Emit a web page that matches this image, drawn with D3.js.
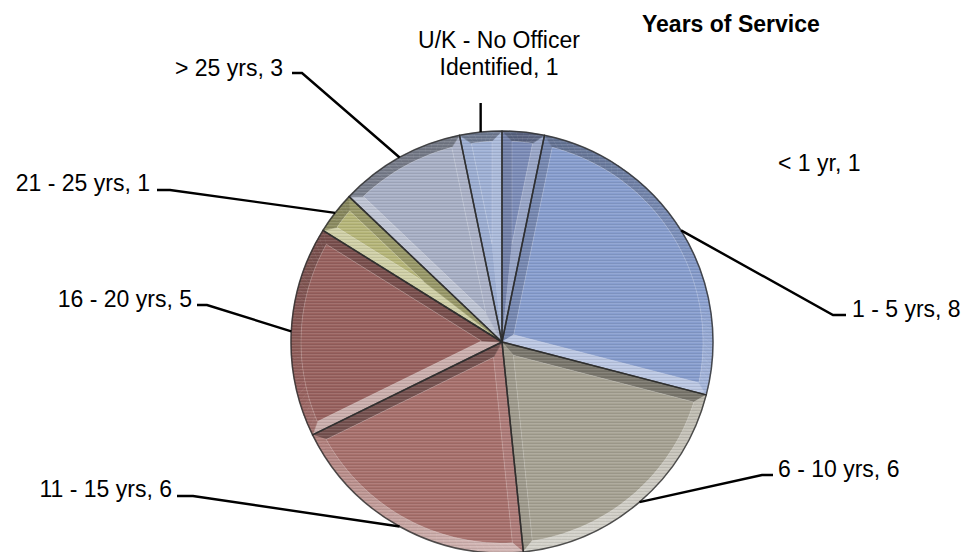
<!DOCTYPE html>
<html>
<head>
<meta charset="utf-8">
<script src="https://cdn.jsdelivr.net/npm/d3@7"></script>
<style>
  html, body { margin: 0; padding: 0; background: #ffffff; }
  svg { display: block; }
  text { font-family: Arial, "Liberation Sans", sans-serif; fill: #000; }
</style>
</head>
<body>
<script>
// Complaints by officer years of service
const categories = ["< 1 yr", "1 - 5 yrs", "6 - 10 yrs", "11 - 15 yrs", "16 - 20 yrs", "21 - 25 yrs", "> 25 yrs", "U/K - No Officer Identified"];
const counts = [1, 8, 6, 6, 5, 1, 3, 1];
const sliceColors = ["#7c8cb8", "#889ecf", "#a7a394", "#a8716d", "#99625f", "#b7b77a", "#a8b0c6", "#9fb1d6"];
const chartTitle = "Years of Service";

// Label placement (text anchor point + leader elbow points), one entry per slice
const labelLayout = [
  { x: 778, y: 171, anchor: "start", leader: null },
  { x: 852, y: 317, anchor: "start", leader: [[833, 315], [846, 315]] },
  { x: 778, y: 477, anchor: "start", leader: [[762, 475], [773, 475]] },
  { x: 172, y: 497, anchor: "end",   leader: [[193, 496], [177, 496]] },
  { x: 192, y: 307, anchor: "end",   leader: [[207, 305], [197, 305]] },
  { x: 150, y: 191, anchor: "end",   leader: [[170, 190], [157, 190]] },
  { x: 283, y: 76,  anchor: "end",   leader: [[302, 73], [292, 73]] },
  { x: 499, y: 48,  anchor: "middle", leader: [[481, 103]], wrap: 175 }
];

const W = 978, H = 552;
const cx = 502, cy = 342, R = 211, bevel = 10;

const svg = d3.select("body").append("svg")
  .attr("width", W).attr("height", H)
  .attr("viewBox", `0 0 ${W} ${H}`);

const defs = svg.append("defs");

// fine horizontal ribbing texture
const pat = defs.append("pattern")
  .attr("id", "ribs").attr("patternUnits", "userSpaceOnUse")
  .attr("width", 6).attr("height", 3);
pat.append("rect").attr("x", 0).attr("y", 0).attr("width", 6).attr("height", 1)
  .attr("fill", "#ffffff").attr("fill-opacity", 0.10);
pat.append("rect").attr("x", 0).attr("y", 2).attr("width", 6).attr("height", 1)
  .attr("fill", "#000000").attr("fill-opacity", 0.08);

// slight softening of the bevel edges
defs.append("filter").attr("id", "soft")
  .attr("x", "-5%").attr("y", "-5%").attr("width", "110%").attr("height", "110%")
  .append("feGaussianBlur").attr("stdDeviation", 0.6);

const data = categories.map((c, i) => ({ name: c, value: counts[i], color: sliceColors[i], layout: labelLayout[i] }));
const pie = d3.pie().sort(null).value(d => d.value);
const slices = pie(data);

const dir = a => [Math.sin(a), -Math.cos(a)];
const pt = (a, rad) => [cx + rad * Math.sin(a), cy - rad * Math.cos(a)];
const light = dir(165 * Math.PI / 180);
const line = d3.line();

function shade(base, n) {
  const L = n[0] * light[0] + n[1] * light[1];
  return L >= 0
    ? d3.interpolateRgb(base, "#ffffff")(L * 0.5)
    : d3.interpolateRgb(base, "#1c1c1c")(-L * 0.38);
}

// inner (top) face of a bevelled wedge
function insetWedge(a0, a1) {
  const half = (a1 - a0) / 2, m = (a0 + a1) / 2;
  const s = bevel / Math.sin(half);
  const A = [s * Math.sin(m), -s * Math.cos(m)];
  const ri = R - bevel;
  const hit = a => {
    const u = dir(a);
    const au = A[0] * u[0] + A[1] * u[1];
    const t = -au + Math.sqrt(Math.max(0, au * au - s * s + ri * ri));
    return [A[0] + t * u[0], A[1] + t * u[1]];
  };
  const ang = p => Math.atan2(p[0], -p[1]);
  const unwrap = (b, ref) => { while (b < ref - Math.PI) b += 2 * Math.PI; while (b > ref + Math.PI) b -= 2 * Math.PI; return b; };
  return {
    apex: [cx + A[0], cy + A[1]],
    b0: unwrap(ang(hit(a0)), a0),
    b1: unwrap(ang(hit(a1)), a1)
  };
}

const pieG = svg.append("g");
const facesG = pieG.append("g").attr("filter", "url(#soft)");

slices.forEach(d => {
  const a0 = d.startAngle, a1 = d.endAngle;
  const base = d.data.color;
  const g = facesG.append("g");
  const { apex, b0, b1 } = insetWedge(a0, a1);
  const ri = R - bevel;
  const N = Math.max(4, Math.ceil((a1 - a0) / (Math.PI / 90)));

  // side faces
  const sideA = [[cx, cy], pt(a0, R), pt(b0, ri), apex];
  const sideB = [[cx, cy], pt(a1, R), pt(b1, ri), apex];
  g.append("path").attr("d", line(sideA) + "Z")
    .attr("fill", shade(base, dir(a0 - Math.PI / 2)))
    .attr("stroke", shade(base, dir(a0 - Math.PI / 2))).attr("stroke-width", 0.6);
  g.append("path").attr("d", line(sideB) + "Z")
    .attr("fill", shade(base, dir(a1 + Math.PI / 2)))
    .attr("stroke", shade(base, dir(a1 + Math.PI / 2))).attr("stroke-width", 0.6);

  // outer rim face, lit segment by segment
  for (let k = 0; k < N; k++) {
    const o0 = a0 + (a1 - a0) * k / N, o1 = a0 + (a1 - a0) * (k + 1) / N;
    const i0 = b0 + (b1 - b0) * k / N, i1 = b0 + (b1 - b0) * (k + 1) / N;
    const c = shade(base, dir((o0 + o1) / 2));
    g.append("path")
      .attr("d", line([pt(o0, R), pt(o1, R), pt(i1, ri), pt(i0, ri)]) + "Z")
      .attr("fill", c).attr("stroke", c).attr("stroke-width", 0.6);
  }

  // top face
  const top = [apex];
  for (let k = 0; k <= N; k++) top.push(pt(b0 + (b1 - b0) * k / N, ri));
  g.append("path").attr("d", line(top) + "Z")
    .attr("fill", base)
    .attr("stroke", "#ffffff").attr("stroke-opacity", 0.22).attr("stroke-width", 0.8);
});

// ribbed texture over the whole pie
pieG.append("circle")
  .attr("cx", cx).attr("cy", cy).attr("r", R)
  .attr("fill", "url(#ribs)");

// slice outlines
const arcGen = d3.arc().innerRadius(0).outerRadius(R);
pieG.selectAll("path.outline")
  .data(slices)
  .join("path")
  .attr("class", "outline")
  .attr("transform", `translate(${cx},${cy})`)
  .attr("d", arcGen)
  .attr("fill", "none")
  .attr("stroke", "#2a2a2a")
  .attr("stroke-opacity", 0.8)
  .attr("stroke-width", 1.5)
  .attr("stroke-linejoin", "round");

// leader lines from the rim at each slice's mid angle
const leaderG = svg.append("g");
slices.forEach(d => {
  const lay = d.data.layout;
  if (!lay.leader) return;
  const mid = (d.startAngle + d.endAngle) / 2;
  const start = pt(mid, R);
  const pts = [start].concat(lay.leader);
  if (lay.leader.length === 1) pts[1] = [start[0], lay.leader[0][1]];
  leaderG.append("path")
    .attr("d", line(pts))
    .attr("fill", "none")
    .attr("stroke", "#000")
    .attr("stroke-width", 2.4);
});

// data labels
const labelG = svg.append("g");
slices.forEach(d => {
  const lay = d.data.layout;
  const txt = `${d.data.name}, ${d.data.value}`;
  const t = labelG.append("text")
    .attr("x", lay.x).attr("y", lay.y)
    .attr("text-anchor", lay.anchor)
    .style("font-size", "23px");
  if (lay.wrap) {
    const words = txt.split(" ");
    let lineWords = [], lineNo = 0;
    let tspan = t.append("tspan").attr("x", lay.x).attr("y", lay.y);
    words.forEach(w => {
      lineWords.push(w);
      tspan.text(lineWords.join(" "));
      if (tspan.node().getComputedTextLength() > lay.wrap && lineWords.length > 1) {
        lineWords.pop();
        tspan.text(lineWords.join(" "));
        lineWords = [w];
        lineNo++;
        tspan = t.append("tspan").attr("x", lay.x).attr("y", lay.y + lineNo * 27).text(w);
      }
    });
  } else {
    t.text(txt);
  }
});

// chart title
svg.append("text")
  .attr("x", 642).attr("y", 32)
  .style("font-size", "23px")
  .style("font-weight", "bold")
  .text(chartTitle);
</script>
</body>
</html>
